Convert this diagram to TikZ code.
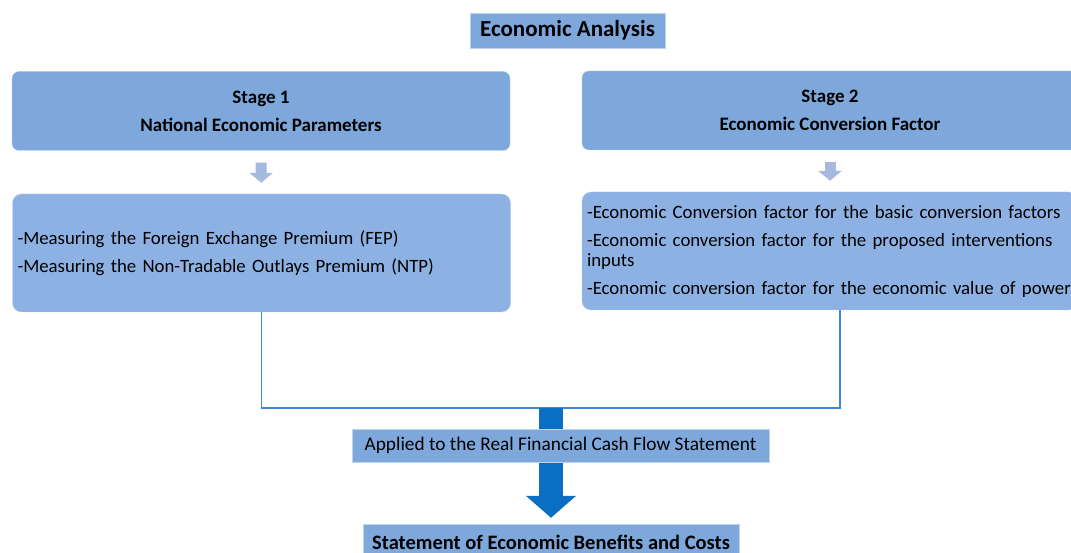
\documentclass[tikz,border=0pt]{standalone}
\usepackage{fontspec}
\setmainfont{Carlito}
\usetikzlibrary{arrows.meta}
\definecolor{headblue}{HTML}{7EA8DC}
\definecolor{bodyblue}{HTML}{8DB1E2}
\definecolor{linkblue}{HTML}{3F88DC}
\definecolor{flowblue}{HTML}{0A6FC3}
\definecolor{stepblue}{HTML}{A6B9DF}
\tikzset{
  head/.style={draw=headblue!60!white, fill=headblue, rounded corners=7pt, minimum width=498pt, minimum height=79pt, align=center, font=\fontsize{19}{28}\selectfont\bfseries},
  body/.style={draw=bodyblue!60!white, fill=bodyblue, rounded corners=9pt, minimum width=498pt, minimum height=118pt, text width=488pt, inner xsep=5pt, align=left, font=\fontsize{18.8}{20}\selectfont},
  label/.style={draw=headblue!50!white, fill=headblue, inner sep=0pt, minimum height=33pt},
  smallarrow/.style={stepblue, line width=11pt, -{Triangle[width=23pt,length=10pt]}},
  bigarrow/.style={flowblue, line width=24pt, -{Triangle[width=49pt,length=22pt]}}
}
\begin{document}
\begin{tikzpicture}[x=1pt,y=-1pt]
    \useasboundingbox (0,0) rectangle (1071,553);
    \node[label, minimum width=195pt, minimum height=35pt, font=\fontsize{23}{26}\selectfont\bfseries] (title) at (567.5,30.5) {Economic Analysis};
    \node[head] (s1) at (261,111) {Stage 1\\National Economic Parameters};
    \node[head, minimum width=496pt] (s2) at (830,110.5) {Stage 2\\Economic Conversion Factor};
    \node[body] (c1) at (261.5,253) {-Measuring the Foreign Exchange Premium (FEP)\\[8pt]-Measuring the Non-Tradable Outlays Premium (NTP)};
    \node[body, minimum width=496pt, text width=486pt] (c2) at (830,251) {-Economic Conversion factor for the basic conversion factors\\[8pt]-Economic conversion factor for the proposed interventions\\inputs\\[8pt]-Economic conversion factor for the economic value of power};
    \node[label, minimum width=376pt, minimum height=36pt, font=\fontsize{20.5}{24}\selectfont\bfseries] (result) at (551,542) {Statement of Economic Benefits and Costs};
    \draw[smallarrow, shorten <=12pt, shorten >=11pt] (s1) -- (c1);
    \draw[smallarrow, shorten <=12pt, shorten >=11pt] (s2) -- (c2);
    % join the two stages
    \coordinate (join) at (551,408);
    \draw[linkblue, line width=1.6pt] (c1.south) |- (join) -| ([xshift=10pt]c2.south);
    \draw[bigarrow, shorten >=6pt] (join) -- (result.north);
    \node[label, minimum width=417pt, font=\fontsize{19.3}{22}\selectfont] (applied) at (560.5,445.5) {Applied to the Real Financial Cash Flow Statement};
  \end{tikzpicture}
\end{document}
